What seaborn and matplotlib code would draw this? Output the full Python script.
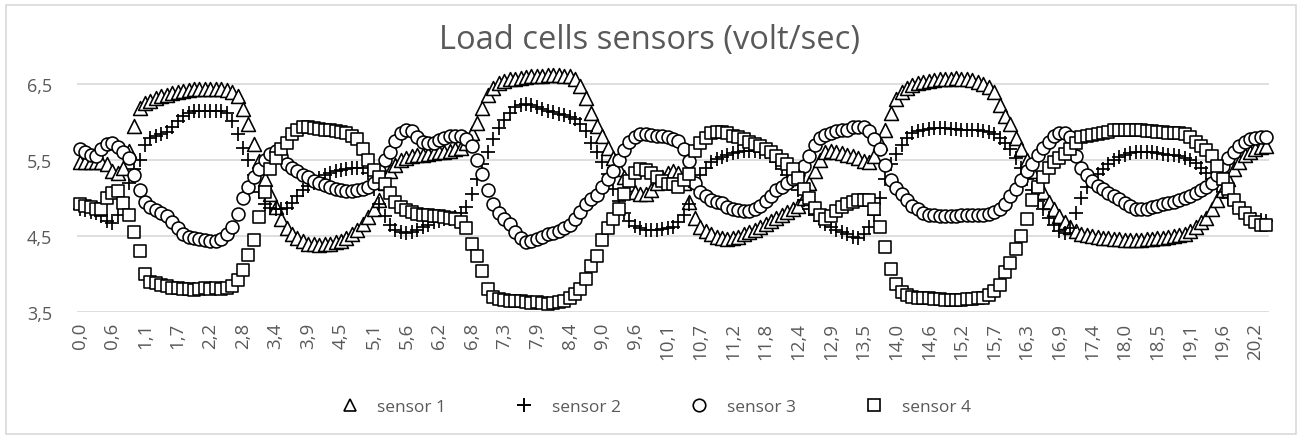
import matplotlib
matplotlib.use("Agg")
import matplotlib.pyplot as plt
from matplotlib.lines import Line2D
from matplotlib.patches import Rectangle
import seaborn as sns
import pandas as pd

# ---------------- data ----------------
tick_labels = ["0,0", "0,6", "1,1", "1,7", "2,2", "2,8", "3,4", "3,9", "4,5", "5,1",
               "5,6", "6,2", "6,8", "7,3", "7,9", "8,4", "9,0", "9,6", "10,1", "10,7",
               "11,2", "11,8", "12,4", "12,9", "13,5", "14,0", "14,6", "15,2", "15,7", "16,3",
               "16,9", "17,4", "18,0", "18,5", "19,1", "19,6", "20,2"]

sensor1 = [5.47, 5.47, 5.48, 5.48, 5.47, 5.45, 5.36, 5.33, 5.40, 5.62,
           5.95, 6.18, 6.25, 6.28, 6.31, 6.34, 6.36, 6.38, 6.40, 6.41,
           6.42, 6.43, 6.44, 6.44, 6.44, 6.44, 6.43, 6.42, 6.39, 6.34,
           6.17, 5.97, 5.71, 5.49, 5.25, 5.05, 4.88, 4.72, 4.60, 4.53,
           4.47, 4.43, 4.40, 4.39, 4.38, 4.39, 4.40, 4.42, 4.44, 4.47,
           4.52, 4.58, 4.66, 4.75, 4.86, 4.98, 5.20, 5.35, 5.44, 5.50,
           5.53, 5.55, 5.56, 5.57, 5.58, 5.59, 5.60, 5.61, 5.62, 5.64,
           5.66, 5.72, 5.85, 5.99, 6.18, 6.35, 6.45, 6.51, 6.54, 6.56,
           6.57, 6.58, 6.59, 6.60, 6.61, 6.61, 6.62, 6.62, 6.62, 6.61,
           6.60, 6.56, 6.47, 6.32, 6.12, 5.95, 5.82, 5.66, 5.52, 5.38,
           5.28, 5.18, 5.08, 5.05, 5.05, 5.10, 5.20, 5.28, 5.33, 5.35,
           5.33, 5.20, 4.95, 4.74, 4.62, 4.56, 4.52, 4.49, 4.47, 4.46,
           4.47, 4.49, 4.52, 4.55, 4.58, 4.62, 4.66, 4.70, 4.74, 4.78,
           4.82, 4.86, 4.90, 5.00, 5.20, 5.36, 5.50, 5.60, 5.62, 5.61,
           5.59, 5.57, 5.55, 5.52, 5.49, 5.47, 5.55, 5.72, 5.90, 6.12,
           6.30, 6.40, 6.45, 6.49, 6.51, 6.53, 6.54, 6.55, 6.56, 6.57,
           6.57, 6.58, 6.57, 6.56, 6.55, 6.53, 6.50, 6.46, 6.40, 6.22,
           6.08, 5.98, 5.79, 5.65, 5.50, 5.35, 5.20, 5.08, 4.95, 4.85,
           4.76, 4.68, 4.62, 4.56, 4.53, 4.51, 4.50, 4.49, 4.48, 4.47,
           4.46, 4.46, 4.45, 4.45, 4.45, 4.45, 4.46, 4.46, 4.47, 4.48,
           4.49, 4.50, 4.51, 4.53, 4.57, 4.62, 4.68, 4.74, 4.85, 4.98,
           5.10, 5.25, 5.38, 5.48, 5.56, 5.61, 5.64, 5.67, 5.68]

sensor2 = [4.85, 4.84, 4.82, 4.80, 4.76, 4.70, 4.67, 4.78, 5.00, 5.20,
           5.38, 5.50, 5.70, 5.79, 5.82, 5.84, 5.87, 5.93, 6.01, 6.08,
           6.12, 6.14, 6.15, 6.15, 6.15, 6.15, 6.15, 6.12, 6.01, 5.84,
           5.66, 5.50, 5.30, 5.08, 4.92, 4.87, 4.85, 4.85, 4.87, 4.93,
           5.02, 5.10, 5.16, 5.20, 5.26, 5.30, 5.33, 5.35, 5.37, 5.38,
           5.39, 5.39, 5.39, 5.33, 5.12, 4.92, 4.76, 4.65, 4.58, 4.55,
           4.54, 4.55, 4.58, 4.62, 4.65, 4.68, 4.70, 4.72, 4.73, 4.75,
           4.80, 4.88, 5.05, 5.25, 5.45, 5.60, 5.77, 5.92, 6.03, 6.12,
           6.20, 6.23, 6.24, 6.22, 6.20, 6.17, 6.15, 6.13, 6.11, 6.09,
           6.07, 6.04, 5.98, 5.88, 5.72, 5.60, 5.48, 5.32, 5.12, 4.96,
           4.80, 4.70, 4.63, 4.60, 4.58, 4.58, 4.58, 4.59, 4.60, 4.62,
           4.68, 4.78, 4.92, 5.15, 5.30, 5.40, 5.47, 5.51, 5.54, 5.57,
           5.59, 5.61, 5.62, 5.62, 5.62, 5.61, 5.60, 5.57, 5.48, 5.38,
           5.30, 5.22, 5.10, 4.98, 4.86, 4.77, 4.70, 4.66, 4.62, 4.58,
           4.55, 4.52, 4.49, 4.48, 4.52, 4.62, 4.78, 5.00, 5.25, 5.45,
           5.58, 5.70, 5.79, 5.85, 5.88, 5.90, 5.91, 5.92, 5.92, 5.92,
           5.91, 5.91, 5.90, 5.90, 5.89, 5.89, 5.88, 5.87, 5.84, 5.79,
           5.72, 5.65, 5.53, 5.40, 5.25, 5.10, 4.96, 4.86, 4.74, 4.64,
           4.57, 4.54, 4.60, 4.80, 5.00, 5.15, 5.25, 5.32, 5.38, 5.45,
           5.50, 5.54, 5.57, 5.59, 5.60, 5.61, 5.61, 5.60, 5.59, 5.58,
           5.57, 5.56, 5.55, 5.53, 5.50, 5.46, 5.40, 5.33, 5.25, 5.17,
           5.08, 5.00, 4.92, 4.86, 4.80, 4.76, 4.73, 4.71, 4.70]

sensor3 = [5.64, 5.60, 5.56, 5.55, 5.65, 5.71, 5.72, 5.67, 5.60, 5.52,
           5.30, 5.10, 4.95, 4.88, 4.84, 4.80, 4.76, 4.68, 4.60, 4.52,
           4.49, 4.48, 4.46, 4.45, 4.44, 4.43, 4.46, 4.53, 4.62, 4.79,
           5.00, 5.14, 5.27, 5.38, 5.50, 5.58, 5.62, 5.55, 5.45, 5.39,
           5.35, 5.30, 5.27, 5.23, 5.20, 5.17, 5.14, 5.12, 5.10, 5.09,
           5.09, 5.10, 5.12, 5.15, 5.20, 5.35, 5.50, 5.60, 5.75, 5.86,
           5.90, 5.88, 5.80, 5.74, 5.72, 5.73, 5.76, 5.79, 5.81, 5.82,
           5.82, 5.78, 5.68, 5.50, 5.32, 5.10, 4.92, 4.80, 4.72, 4.66,
           4.55, 4.47, 4.42, 4.43, 4.46, 4.49, 4.52, 4.54, 4.57, 4.60,
           4.64, 4.72, 4.82, 4.92, 4.99, 5.04, 5.15, 5.25, 5.35, 5.50,
           5.63, 5.74, 5.80, 5.84, 5.84, 5.83, 5.82, 5.81, 5.80, 5.78,
           5.75, 5.64, 5.49, 5.20, 5.08, 5.02, 4.98, 4.95, 4.93, 4.88,
           4.86, 4.84, 4.83, 4.83, 4.85, 4.90, 4.96, 5.03, 5.10, 5.15,
           5.20, 5.25, 5.32, 5.42, 5.55, 5.70, 5.79, 5.83, 5.86, 5.88,
           5.89, 5.90, 5.93, 5.94, 5.93, 5.88, 5.78, 5.64, 5.44, 5.24,
           5.13, 5.05, 4.97, 4.90, 4.85, 4.80, 4.78, 4.77, 4.76, 4.76,
           4.76, 4.76, 4.77, 4.77, 4.78, 4.78, 4.78, 4.79, 4.82, 4.86,
           4.92, 5.02, 5.12, 5.24, 5.35, 5.45, 5.56, 5.66, 5.74, 5.82,
           5.85, 5.86, 5.80, 5.55, 5.40, 5.30, 5.22, 5.16, 5.12, 5.07,
           5.03, 4.99, 4.94, 4.90, 4.86, 4.85, 4.86, 4.88, 4.90, 4.92,
           4.93, 4.95, 4.97, 5.00, 5.03, 5.06, 5.10, 5.14, 5.20, 5.30,
           5.42, 5.52, 5.60, 5.68, 5.74, 5.77, 5.79, 5.80, 5.80]

sensor4 = [4.92, 4.90, 4.88, 4.86, 4.85, 5.00, 5.06, 5.09, 4.93, 4.78,
           4.55, 4.30, 4.00, 3.90, 3.88, 3.86, 3.84, 3.82, 3.81, 3.80,
           3.80, 3.79, 3.80, 3.81, 3.80, 3.81, 3.80, 3.82, 3.84, 3.92,
           4.05, 4.25, 4.45, 4.75, 5.08, 5.38, 5.53, 5.65, 5.72, 5.84,
           5.90, 5.93, 5.93, 5.92, 5.91, 5.90, 5.89, 5.88, 5.87, 5.85,
           5.82, 5.77, 5.64, 5.50, 5.37, 5.28, 5.18, 5.06, 4.95, 4.88,
           4.84, 4.81, 4.79, 4.78, 4.77, 4.76, 4.76, 4.75, 4.74, 4.72,
           4.68, 4.60, 4.40, 4.24, 4.04, 3.80, 3.70, 3.67, 3.66, 3.65,
           3.64, 3.65, 3.63, 3.62, 3.63, 3.62, 3.61, 3.62, 3.63, 3.65,
           3.68, 3.74, 3.80, 3.94, 4.10, 4.24, 4.45, 4.60, 4.72, 4.85,
           5.05, 5.22, 5.33, 5.38, 5.37, 5.33, 5.28, 5.22, 5.19, 5.18,
           5.15, 5.24, 5.32, 5.62, 5.72, 5.79, 5.85, 5.87, 5.87, 5.85,
           5.82, 5.80, 5.77, 5.74, 5.71, 5.68, 5.64, 5.60, 5.55, 5.50,
           5.45, 5.38, 5.26, 5.12, 5.00, 4.87, 4.78, 4.72, 4.76, 4.83,
           4.88, 4.92, 4.95, 4.97, 4.98, 4.97, 4.85, 4.62, 4.35, 4.07,
           3.87, 3.76, 3.72, 3.70, 3.69, 3.68, 3.68, 3.67, 3.67, 3.66,
           3.66, 3.66, 3.66, 3.67, 3.67, 3.68, 3.69, 3.72, 3.77, 3.86,
           4.02, 4.15, 4.33, 4.50, 4.72, 4.97, 5.15, 5.28, 5.39, 5.47,
           5.52, 5.58, 5.64, 5.72, 5.80, 5.82, 5.83, 5.84, 5.85, 5.87,
           5.89, 5.90, 5.90, 5.90, 5.89, 5.89, 5.88, 5.88, 5.87, 5.87,
           5.86, 5.86, 5.85, 5.84, 5.80, 5.74, 5.68, 5.63, 5.55, 5.42,
           5.25, 5.12, 4.98, 4.87, 4.80, 4.73, 4.68, 4.65, 4.65]

series_names = ["sensor 1", "sensor 2", "sensor 3", "sensor 4"]
y_ticks = [3.5, 4.5, 5.5, 6.5]
y_tick_labels = ["3,5", "4,5", "5,5", "6,5"]
title = "Load cells sensors (volt/sec)"

# ---------------- style ----------------
sns.set_theme(style="white")
plt.rcParams["font.family"] = ["Open Sans", "DejaVu Sans"]
TXT = "#595959"
GRID = "#D9D9D9"

W, H = 1299, 439
fig = plt.figure(figsize=(W / 100, H / 100), dpi=100)

# axes placed in pixel terms
ax_left, ax_right = 77, 1269
y_bottom_px, unit_px = 313, 76.0
y_top_val = 6.8
ax_top = y_bottom_px - (y_top_val - 3.5) * unit_px
ax = fig.add_axes([ax_left / W, 1 - y_bottom_px / H,
                   (ax_right - ax_left) / W, (y_bottom_px - ax_top) / H])

frames = []
for name, vals in zip(series_names, [sensor1, sensor2, sensor3, sensor4]):
    frames.append(pd.DataFrame({"sample": range(len(vals)), "value": vals, "sensor": name}))
df = pd.concat(frames, ignore_index=True)

styles = {
    "sensor 1": dict(marker="^", s=10.0 ** 2, facecolor="white", edgecolor="black", linewidth=1.15),
    "sensor 2": dict(marker="+", s=10.0 ** 2, color="black", linewidth=1.25),
    "sensor 3": dict(marker="o", s=9.3 ** 2, facecolor="white", edgecolor="black", linewidth=1.15),
    "sensor 4": dict(marker="s", s=8.6 ** 2, facecolor="white", edgecolor="black", linewidth=1.15),
}

for i, name in enumerate(series_names):
    sub = df[df["sensor"] == name]
    sns.scatterplot(data=sub, x="sample", y="value", ax=ax, legend=False,
                    zorder=3 + i, clip_on=False, **styles[name])

n = len(sensor1)
ax.set_xlim(-0.5, n - 0.5)
ax.set_ylim(3.5, y_top_val)
ax.set_yticks(y_ticks)
ax.set_yticklabels(y_tick_labels)
ax.set_xticks([6 * k for k in range(len(tick_labels))])
ax.set_xticklabels(tick_labels, rotation=90)
ax.tick_params(axis="both", length=0, labelcolor=TXT)
ax.tick_params(axis="x", pad=7, labelsize=13.5)
ax.tick_params(axis="y", pad=18, labelsize=13)
ax.set_xlabel("")
ax.set_ylabel("")
for sp in ax.spines.values():
    sp.set_visible(False)
ax.grid(False)
for yv in y_ticks:
    ax.axhline(yv, color=GRID, linewidth=1.2, zorder=1)

# title
fig.text(0.5, 1 - 40 / H, title, ha="center", va="center", fontsize=23.5, color=TXT)

# legend
handles = [
    Line2D([], [], linestyle="none", marker="^", markersize=9, markerfacecolor="white",
           markeredgecolor="black", markeredgewidth=1.2),
    Line2D([], [], linestyle="none", marker="+", markersize=10, color="black", markeredgewidth=1.4),
    Line2D([], [], linestyle="none", marker="o", markersize=9, markerfacecolor="white",
           markeredgecolor="black", markeredgewidth=1.2),
    Line2D([], [], linestyle="none", marker="s", markersize=9, markerfacecolor="white",
           markeredgecolor="black", markeredgewidth=1.2),
]
leg = fig.legend(handles, series_names, loc="center", bbox_to_anchor=(0.505, 1 - 408 / H),
                 ncol=4, frameon=False, fontsize=12.5, handletextpad=1.1, columnspacing=4.0,
                 handlelength=1.0)
for t in leg.get_texts():
    t.set_color(TXT)

# chart border
fig.patches.append(Rectangle((6 / W, 4 / H), (W - 9) / W, (H - 10) / H,
                             transform=fig.transFigure, fill=False,
                             edgecolor=GRID, linewidth=1.2))

fig.savefig("out.png", dpi=100)
